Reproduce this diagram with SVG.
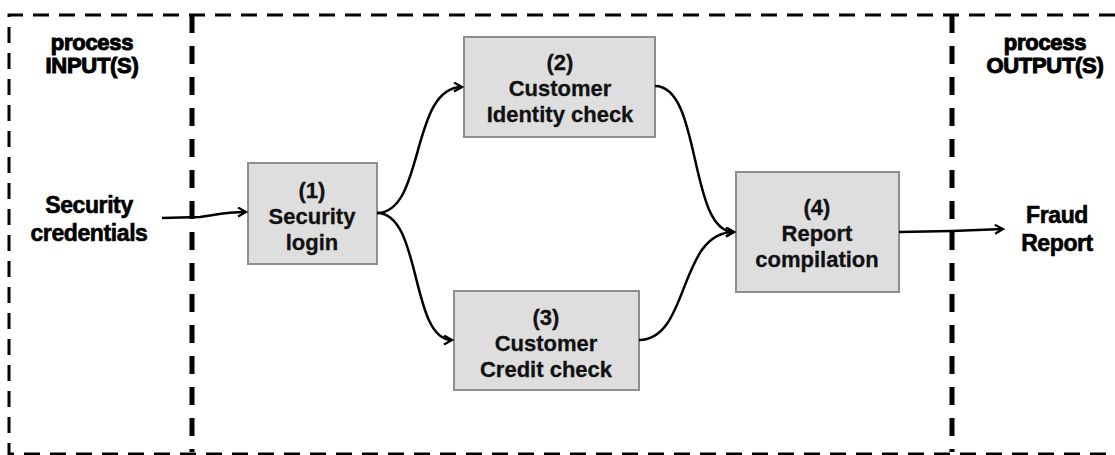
<svg xmlns="http://www.w3.org/2000/svg" width="1115" height="455" viewBox="0 0 1115 455">
  <style>
    .frame { fill: none; stroke: #000; stroke-width: 3; stroke-dasharray: 16 10; }
    .divider { fill: none; stroke: #000; stroke-width: 5; stroke-dasharray: 18 13; }
    .box { fill: #dedede; stroke: #8e8e8e; stroke-width: 2; }
    .lbl { font-family: "Liberation Sans", Arial, sans-serif; font-weight: bold; font-size: 22px; fill: #111; text-anchor: middle; stroke: #111; stroke-width: 0.3; }
    .side { font-family: "Liberation Sans", Arial, sans-serif; font-weight: bold; font-size: 23px; fill: #000; text-anchor: middle; stroke: #000; stroke-width: 0.6; letter-spacing: -0.4px; }
    .head { font-family: "Liberation Sans", Arial, sans-serif; font-weight: bold; font-size: 22px; fill: #000; text-anchor: middle; stroke: #000; stroke-width: 1; letter-spacing: -0.3px; }
    .flow { fill: none; stroke: #000; stroke-width: 2.5; marker-end: url(#arrow); }
  </style>
  <defs>
    <marker id="arrow" markerWidth="12" markerHeight="12" refX="9" refY="5" orient="auto" markerUnits="userSpaceOnUse">
      <path d="M1,0.5 L9,5 L1,9.5" fill="none" stroke="#000" stroke-width="2.2"/>
    </marker>
  </defs>
  <rect width="1115" height="455" fill="#fff"/>

  <!-- boundary of the process and the input/output dividers -->
  <g id="frame">
    <path class="frame" d="M1115,15 L9,15 L9,454 L1115,454"/>
    <line class="divider" x1="192" y1="15" x2="192" y2="452"/>
    <line class="divider" x1="952" y1="15" x2="952" y2="452"/>
  </g>

  <g id="heading-inputs">
    <text class="head" x="92" y="50">process</text>
    <text class="head" x="92" y="73">INPUT(S)</text>
  </g>
  <g id="heading-outputs">
    <text class="head" x="1045" y="50">process</text>
    <text class="head" x="1045" y="73">OUTPUT(S)</text>
  </g>

  <g id="input-credentials">
    <text class="side" x="89" y="213">Security</text>
    <text class="side" x="89" y="241">credentials</text>
  </g>
  <g id="output-report">
    <text class="side" x="1057" y="223">Fraud</text>
    <text class="side" x="1057" y="251">Report</text>
  </g>

  <g id="node-1">
    <rect class="box" x="248" y="163" width="129" height="101"/>
    <text class="lbl" x="312" y="198">(1)</text>
    <text class="lbl" x="312" y="224">Security</text>
    <text class="lbl" x="312" y="250">login</text>
  </g>
  <g id="node-2">
    <rect class="box" x="464" y="37" width="191" height="100"/>
    <text class="lbl" x="560" y="70">(2)</text>
    <text class="lbl" x="560" y="96">Customer</text>
    <text class="lbl" x="560" y="122">Identity check</text>
  </g>
  <g id="node-3">
    <rect class="box" x="454" y="291" width="185" height="99"/>
    <text class="lbl" x="546" y="325">(3)</text>
    <text class="lbl" x="546" y="351">Customer</text>
    <text class="lbl" x="546" y="377">Credit check</text>
  </g>
  <g id="node-4">
    <rect class="box" x="736" y="172" width="163" height="120"/>
    <text class="lbl" x="817" y="215">(4)</text>
    <text class="lbl" x="817" y="241">Report</text>
    <text class="lbl" x="817" y="267">compilation</text>
  </g>

  <g id="connectors">
    <path class="flow" d="M162,218 L200,217 C215,215 225,212 246,212"/>
    <path class="flow" d="M377,213 C425,213 410,87 462,87"/>
    <path class="flow" d="M377,213 C422,213 410,340 452,340"/>
    <path class="flow" d="M655,86 C702,86 688,232 734,232"/>
    <path class="flow" d="M639,340 C690,340 678,232 734,232"/>
    <path class="flow" d="M899,232 L952,231 L1003,229"/>
  </g>
</svg>
